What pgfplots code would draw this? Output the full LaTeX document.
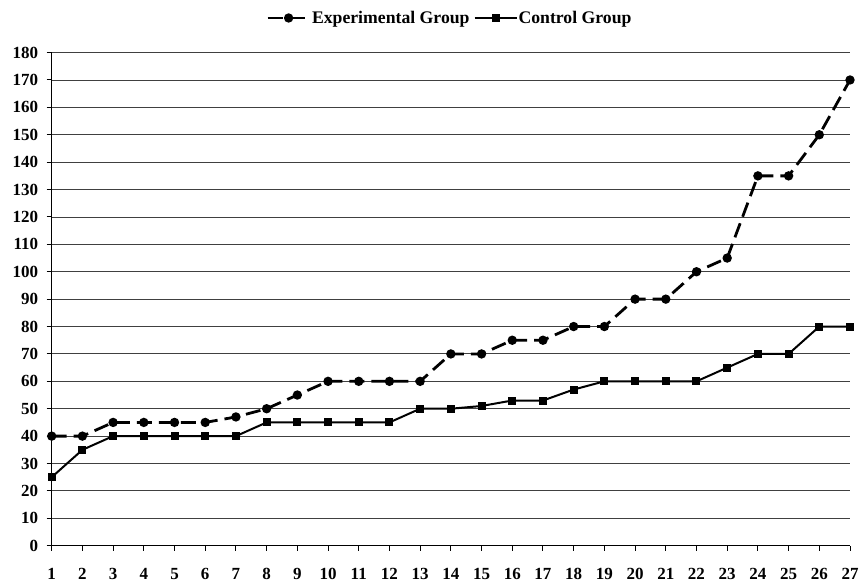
\documentclass[border=0pt]{standalone}
\usepackage{pgfplots}
\pgfplotsset{compat=1.18}
\usepackage{fontspec}
\setmainfont{Liberation Serif}
\begin{document}
\begin{tikzpicture}
\begin{axis}[
  scale only axis,
  width=798.3pt, height=493.1pt,
  xmin=1, xmax=27, ymin=0, ymax=180,
  xtick={1,...,27}, ytick={0,10,...,180},
  axis x line*=bottom, axis y line*=left,
  axis line style={black, line width=1.2pt, -},
  tick align=outside, major tick length=5pt,
  tick style={black, line width=1pt},
  ymajorgrids, grid style={black!75, line width=0.9pt},
  /pgf/number format/assume math mode=true,
  tick label style={font=\fontsize{17}{19}\selectfont\bfseries},
  xticklabel style={yshift=-14pt},
  yticklabel style={xshift=-5pt},
  legend style={at={(0.5,1)}, anchor=center, yshift=34.6pt, xshift=-1.5pt, draw=none, fill=none,
    font=\fontsize{17.7}{19}\selectfont\bfseries,
    nodes={inner xsep=1pt},
    /tikz/every even column/.append style={column sep=3pt}},
  legend columns=2,
  legend image code/.code={
    \draw[#1, mark repeat=2, mark phase=2] plot coordinates {(0pt,0pt) (21pt,0pt) (42pt,0pt)};
  },
  clip=false,
]
\addplot[black, line width=2.8pt, dash pattern=on 15pt off 7pt, mark=*, mark size=3.2pt,
  mark options={solid, fill=black}] coordinates {
  (1,40) (2,40) (3,45) (4,45) (5,45) (6,45) (7,47) (8,50) (9,55) (10,60)
  (11,60) (12,60) (13,60) (14,70) (15,70) (16,75) (17,75) (18,80) (19,80)
  (20,90) (21,90) (22,100) (23,105) (24,135) (25,135) (26,150) (27,170)};
\addlegendentry{Experimental Group}
\addplot[black, line width=2pt, mark=square*, mark size=3pt,
  mark options={solid, fill=black}] coordinates {
  (1,25) (2,35) (3,40) (4,40) (5,40) (6,40) (7,40) (8,45) (9,45) (10,45)
  (11,45) (12,45) (13,50) (14,50) (15,51) (16,53) (17,53) (18,57) (19,60)
  (20,60) (21,60) (22,60) (23,65) (24,70) (25,70) (26,80) (27,80)};
\addlegendentry{Control Group}
\path (rel axis cs:0,0) ++(-51.7pt,-39.3pt) coordinate (bbsw);
\path (rel axis cs:1,1) ++(10pt,52.6pt) coordinate (bbne);
\end{axis}
\pgfresetboundingbox
\path[use as bounding box] (bbsw) rectangle (bbne);
\end{tikzpicture}
\end{document}
